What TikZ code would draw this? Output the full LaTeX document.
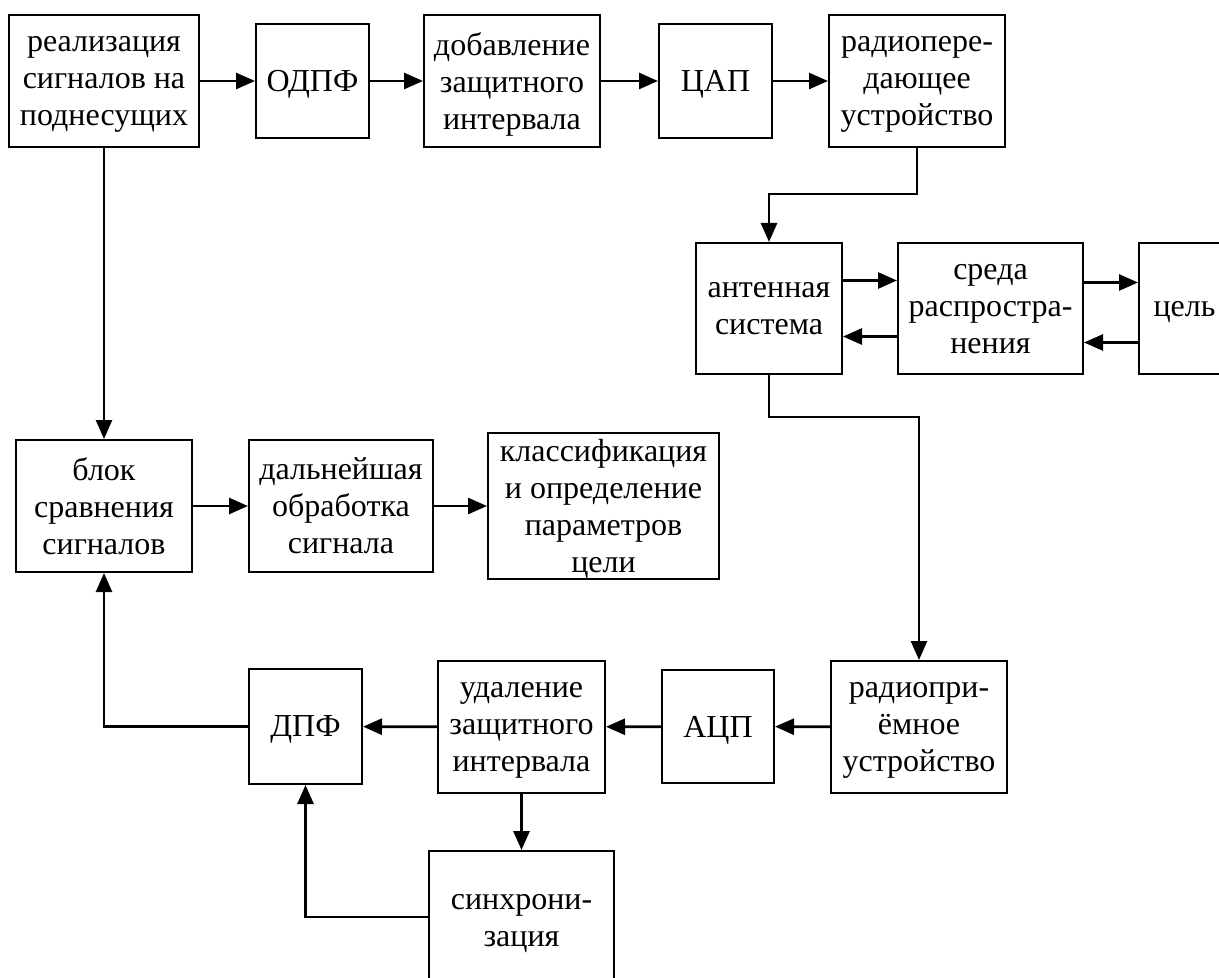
\documentclass[tikz,border=0pt]{standalone}
\usepackage{fontspec}
\setmainfont{Liberation Serif}
\usepackage{tikz}
\usetikzlibrary{arrows.meta}
\tikzstyle{block} = [rectangle, 
inner sep=0pt, 
align=center, 
text depth=0pt, 
line width=1pt, 
draw=black, 
font=\fontsize{16}{18.5}\selectfont]
\tikzstyle{arrow} = [line width=1.35pt, -{Triangle[length=9.5pt, width=8pt]}]

\begin{document}
\begin{tikzpicture}[x=0.5pt, y=-0.5pt]
		\clip (0,0) rectangle (1219,978);
		
		% transmitter
		\node (tx1) [block, minimum width=95pt, minimum height=66pt] at (104,81) {реализация\\сигналов на\\поднесущих};
		\node (tx2) [block, minimum width=56.5pt, minimum height=57pt] at (312.5,81) {ОДПФ};
		\node (tx3) [block, minimum width=88pt, minimum height=66pt] at (512,81) {добавление\\защитного\\интервала};
		\node (tx4) [block, minimum width=56.5pt, minimum height=57pt] at (715.5,81) {ЦАП};
		\node (tx5) [block, minimum width=88pt, minimum height=66pt] at (917,81) {радиопере-\\дающее\\устройство};
		
		% channel
		\node (ant) [block, minimum width=73pt, minimum height=65.5pt] at (769,308.5) {антенная\\система};
		\node (med) [block, minimum width=92.5pt, minimum height=65.5pt] at (990.5,308.5) {среда\\распростра-\\нения};
		\node (tgt) [block, minimum width=45.5pt, minimum height=65.5pt] at (1184.5,308.5) {цель};
		
		% processing
		\node (cmp) [block, minimum width=88pt, minimum height=66pt] at (104,506) {блок\\сравнения\\сигналов};
		\node (proc) [block, minimum width=92pt, minimum height=66pt] at (341,506) {дальнейшая\\обработка\\сигнала};
		\node (out) [block, minimum width=115.5pt, minimum height=73pt] at (603.5,506) {классификация\\и определение\\параметров\\цели};
		
		% receiver
		\node (rx1) [block, minimum width=88pt, minimum height=66pt] at (919,727) {радиопри-\\ёмное\\устройство};
		\node (rx2) [block, minimum width=56pt, minimum height=56.5pt] at (718,726.5) {АЦП};
		\node (rx3) [block, minimum width=83.5pt, minimum height=66pt] at (521.5,727) {удаление\\защитного\\интервала};
		\node (rx4) [block, minimum width=56.5pt, minimum height=57.5pt] at (305.5,726.5) {ДПФ};
		\node (sync) [block, minimum width=92.5pt, minimum height=69pt] at (521.5,920) {синхрони-\\зация};

		\draw [arrow] (tx1) -- (tx2);
		\draw [arrow] (tx2) -- (tx3);
		\draw [arrow] (tx3) -- (tx4);
		\draw [arrow] (tx4) -- (tx5);
		\draw [arrow] (tx5.south) -- ++(0,46) -| (ant.north);
		\draw [arrow] ([yshift=14pt]ant.east) -- ([yshift=14pt]med.west);
		\draw [arrow] ([yshift=-14pt]med.west) -- ([yshift=-14pt]ant.east);
		\draw [arrow] ([yshift=13pt]med.east) -- ([yshift=13pt]tgt.west);
		\draw [arrow] ([yshift=-17pt]tgt.west) -- ([yshift=-17pt]med.east);
		\draw [arrow] (ant.south) -- ++(0,42) -| (rx1.north);
		\draw [arrow] (rx1) -- (rx2);
		\draw [arrow] (rx2) -- (rx3);
		\draw [arrow] (rx3) -- (rx4);
		\draw [arrow] (rx3) -- (sync);
		\draw [arrow] ([yshift=1.5pt]sync.west) -| (rx4.south);
		\draw [arrow] (rx4.west) -| (cmp.south);
		\draw [arrow] (tx1) -- (cmp);
		\draw [arrow] (cmp) -- (proc);
		\draw [arrow] (proc) -- (out);
		
%		\draw [arrow] (out) -- (tgt);
	\end{tikzpicture}
\end{document}
